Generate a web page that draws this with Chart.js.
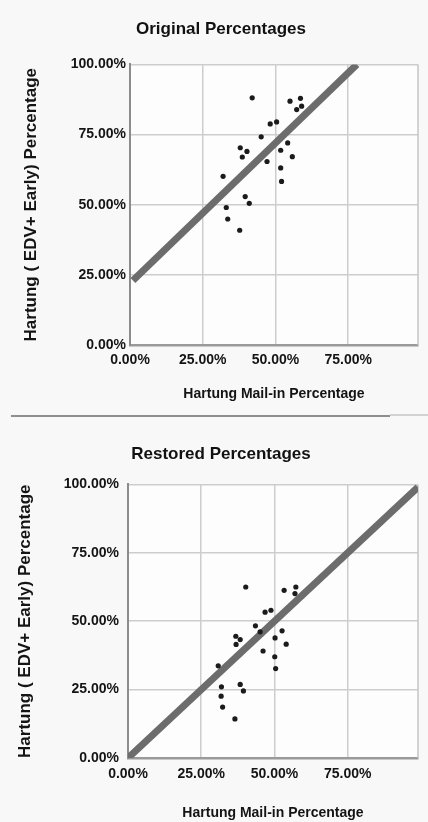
<!DOCTYPE html>
<html>
<head>
<meta charset="utf-8">
<script src="https://cdn.jsdelivr.net/npm/chart.js@4/dist/chart.umd.min.js"></script>
<style>
  html, body { margin: 0; padding: 0; background: #f8f8f8; }
  body { position: relative; width: 428px; height: 822px; overflow: hidden; }
  canvas { position: absolute; left: 0; }
  #cOrig { top: 0; }
  #cRest { top: 418px; }
  .rule { position: absolute; height: 0; }
  #rule1 { top: 415px; left: 11px; width: 379px; border-top: 2px solid #8e8e8e; }
  #rule2 { top: 414px; left: 390px; width: 38px; border-top: 2px solid #d2d2d2; }
</style>
</head>
<body>
<canvas id="cOrig" width="428" height="405"></canvas>
<div class="rule" id="rule1"></div>
<div class="rule" id="rule2"></div>
<canvas id="cRest" width="428" height="404"></canvas>
<script>
// Precinct-level percentages: mail-in share (x) vs. EDV + Early share (y)
const origMailIn = [42.0, 55.0, 58.6, 48.2, 50.4, 45.1, 54.2, 51.8, 55.8, 38.6, 37.9, 40.2, 47.1, 51.8, 52.1, 32.0, 39.6, 41.0, 33.1, 33.6, 37.7, 59.0, 57.3];
const origEarly  = [88.1, 86.9, 87.9, 78.8, 79.5, 74.2, 72.0, 69.4, 67.1, 67.0, 70.3, 69.0, 65.4, 63.1, 58.3, 60.1, 52.9, 50.5, 49.0, 44.9, 40.9, 85.1, 83.9];
const origTrendX = [1, 78];
const origTrendY = [23, 100];

const restMailIn = [40.2, 53.3, 57.3, 46.8, 48.8, 43.5, 52.6, 50.2, 54.0, 36.9, 36.8, 38.3, 46.1, 50.1, 50.4, 30.8, 38.3, 39.4, 31.9, 31.8, 32.3, 36.5, 57.0, 45.1];
const restEarly  = [62.5, 61.3, 62.5, 53.3, 54.0, 48.3, 46.5, 43.9, 41.6, 41.5, 44.5, 43.3, 39.1, 37.0, 32.7, 33.7, 26.9, 24.5, 26.0, 22.6, 18.6, 14.3, 60.1, 46.1];
const restTrendX = [0, 99];
const restTrendY = [0, 99];

const xTicks = [0, 25, 50, 75];
const yTicks = [0, 25, 50, 75, 100];

const xTitle = 'Hartung Mail-in Percentage';
const yTitle = 'Hartung ( EDV+ Early) Percentage';

Chart.defaults.font.family = "'Liberation Sans', Arial, sans-serif";
Chart.defaults.font.weight = 'bold';
Chart.defaults.color = '#141414';

const pct = v => Number(v).toFixed(2) + '%';
const pairs = (xs, ys) => xs.map((x, i) => ({ x: x, y: ys[i] }));

// plot background plus the right-hand frame edge
const plotFrame = {
  id: 'plotFrame',
  beforeDraw(chart) {
    const { ctx, chartArea: a } = chart;
    ctx.save();
    ctx.fillStyle = '#fdfdfd';
    ctx.fillRect(a.left, a.top, a.right - a.left, a.bottom - a.top);
    ctx.restore();
  },
  beforeDatasetsDraw(chart) {
    const { ctx, chartArea: a } = chart;
    ctx.save();
    ctx.strokeStyle = '#c4c4c4';
    ctx.lineWidth = 1.5;
    ctx.beginPath();
    ctx.moveTo(a.right, a.top);
    ctx.lineTo(a.right, a.bottom);
    ctx.stroke();
    ctx.restore();
  }
};

// left padding shifts the centred chart title; the y-axis box keeps the plot edge in place
const LEFT_PAD = 24;

function makeChart(id, cfg) {
  return new Chart(document.getElementById(id), {
    type: 'scatter',
    data: {
      datasets: [
        {
          data: pairs(cfg.mailIn, cfg.early),
          pointRadius: 2.6,
          pointBackgroundColor: '#1b1b1b',
          pointBorderWidth: 0,
          order: 0
        },
        {
          data: pairs(cfg.trendX, cfg.trendY),
          showLine: true,
          pointRadius: 0,
          borderColor: '#6c6c6c',
          borderWidth: 7,
          borderCapStyle: 'butt',
          order: 1
        }
      ]
    },
    options: {
      responsive: false,
      animation: false,
      events: [],
      layout: { padding: { left: LEFT_PAD, right: 10, top: 0, bottom: 0 } },
      plugins: {
        legend: { display: false },
        tooltip: { enabled: false },
        title: {
          display: true,
          text: cfg.title,
          font: { size: 17, weight: 'bold' },
          color: '#111',
          padding: cfg.titlePad
        }
      },
      scales: {
        x: {
          type: 'linear',
          min: 0,
          max: 99,
          afterBuildTicks: s => { s.ticks = xTicks.map(v => ({ value: v })); },
          afterFit: s => { s.height = cfg.xHeight; },
          grid: { color: '#cdcdcd', lineWidth: 1.5, drawTicks: false },
          border: { color: '#9a9a9a', width: 2.5 },
          ticks: { callback: pct, font: { size: 14, weight: 'bold' }, padding: cfg.xTickPad, maxRotation: 0 },
          title: { display: true, text: xTitle, font: { size: 14, weight: 'bold' }, padding: { top: 0, bottom: cfg.xTitlePad } }
        },
        y: {
          type: 'linear',
          min: 0,
          max: 100,
          afterBuildTicks: s => { s.ticks = yTicks.map(v => ({ value: v })); },
          afterFit: s => { s.width = cfg.plotLeft - LEFT_PAD; },
          grid: { color: '#cdcdcd', lineWidth: 1.5, drawTicks: false },
          border: { color: '#8c8c8c', width: 2 },
          ticks: { callback: pct, font: { size: 14, weight: 'bold' }, padding: cfg.yTickPad },
          title: { display: true, text: yTitle, font: { size: 17, weight: 'bold' }, padding: { top: cfg.yTitleX - LEFT_PAD - 10.2, bottom: 0 } }
        }
      }
    },
    plugins: [plotFrame]
  });
}

makeChart('cOrig', {
  title: 'Original Percentages',
  mailIn: origMailIn, early: origEarly, trendX: origTrendX, trendY: origTrendY,
  titlePad: { top: 19, bottom: 25 },
  xHeight: 60, xTickPad: 7, xTitlePad: 2,
  plotLeft: 130, yTickPad: 4, yTitleX: 31
});

makeChart('cRest', {
  title: 'Restored Percentages',
  mailIn: restMailIn, early: restEarly, trendX: restTrendX, trendY: restTrendY,
  titlePad: { top: 26, bottom: 20 },
  xHeight: 64, xTickPad: 8, xTitlePad: 0,
  plotLeft: 128, yTickPad: 9, yTitleX: 25
});
</script>
</body>
</html>
